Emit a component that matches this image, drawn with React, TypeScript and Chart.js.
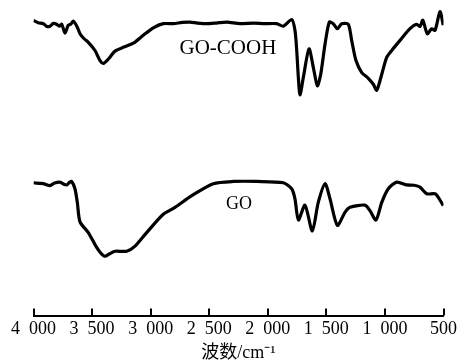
import React, { useEffect, useRef } from "react";
import { Chart, registerables } from "chart.js";

Chart.register(...registerables);

// Wavenumber (cm^-1) and transmittance (arbitrary %)
const goCoohWavenumbers = [
  4000, 3960, 3916, 3885, 3859, 3830, 3802, 3780, 3759, 3731, 3703, 3680, 3660, 3626, 3603, 3570, 3532, 3475,
  3432, 3404, 3361, 3304, 3233, 3148, 3063, 2977, 2892, 2807, 2730, 2664, 2600, 2521, 2440, 2351, 2237, 2120,
  2030, 1924, 1867, 1796, 1768, 1753, 1739, 1725, 1697, 1648, 1611, 1577, 1548, 1511, 1475, 1441, 1406, 1369,
  1313, 1284, 1247, 1198, 1142, 1099, 1070, 1027, 985, 942, 871, 786, 729, 700, 677, 638, 601, 572, 530, 502,
];
const goCoohValues = [
  93.5, 92.8, 92.5, 91.6, 91.7, 92.6, 92.3, 91.7, 92.3, 89.5, 92.0, 92.4, 93.3, 91.4, 89.3, 87.8, 86.6, 84.0,
  80.8, 79.9, 81.3, 83.8, 85.0, 86.3, 88.8, 91.2, 92.5, 92.5, 92.9, 93.0, 92.7, 92.5, 92.7, 93.0, 92.5, 92.7,
  92.5, 92.5, 91.7, 93.8, 90.4, 84.0, 75.4, 69.9, 75.4, 84.5, 78.6, 72.8, 76.5, 86.1, 93.0, 92.5, 90.9, 92.5,
  92.3, 87.2, 80.8, 77.0, 75.2, 73.3, 71.4, 76.5, 81.8, 84.0, 87.2, 90.9, 92.3, 91.6, 93.6, 89.3, 90.9, 90.4, 96.3, 92.0,
];

const goWavenumbers = [
  4000, 3950, 3916, 3859, 3820, 3774, 3740, 3717, 3690, 3674, 3646, 3626, 3603, 3532, 3475, 3432, 3390, 3350,
  3304, 3204, 3133, 3034, 2892, 2792, 2649, 2465, 2294, 2095, 1867, 1796, 1768, 1739, 1682, 1620, 1569, 1511,
  1469, 1406, 1341, 1298, 1170, 1127, 1076, 1027, 971, 899, 814, 750, 700, 643, 572, 536, 502,
];
const goValues = [
  42.1, 41.9, 41.8, 41.2, 42.0, 42.3, 41.6, 41.4, 42.3, 42.5, 40.2, 35.9, 29.7, 26.3, 22.5, 20.1, 18.8, 19.6,
  20.4, 20.4, 22.0, 26.3, 32.1, 34.3, 38.0, 41.8, 42.5, 42.5, 42.1, 40.2, 37.0, 30.3, 35.0, 26.8, 35.9, 41.8,
  37.0, 28.6, 32.7, 34.3, 35.0, 33.2, 30.3, 35.9, 40.2, 42.3, 41.4, 41.3, 40.7, 38.6, 38.6, 37.0, 34.8,
];

const seriesNames = ["GO-COOH", "GO"];
const xTickValues = [4000, 3500, 3000, 2500, 2000, 1500, 1000, 500];
const xTickLabels = ["4  000", "3  500", "3  000", "2  500", "2  000", "1  500", "1  000", "500"];
const xAxisTitle = "波数/cm⁻¹";

const SERIF = '"Liberation Serif", "Times New Roman", "Noto Sans CJK SC", serif';

// curve name labels, placed in data units
const curveLabels = [
  { text: seriesNames[0], x: 2340, y: 84.6, size: 21 },
  { text: seriesNames[1], x: 2245, y: 35.3, size: 18 },
];

const annotationPlugin = {
  id: "ftirDecor",
  afterDraw(chart: any) {
    const { ctx, scales, chartArea } = chart;
    const xs = scales.x;
    const ys = scales.y;
    ctx.save();
    // upward tick marks
    ctx.strokeStyle = "#000";
    ctx.lineWidth = 2;
    xs.ticks.forEach((t: any) => {
      const px = Math.round(xs.getPixelForValue(t.value));
      ctx.beginPath();
      ctx.moveTo(px, chartArea.bottom);
      ctx.lineTo(px, chartArea.bottom - 7);
      ctx.stroke();
    });
    // curve labels
    ctx.fillStyle = "#000";
    ctx.textAlign = "center";
    ctx.textBaseline = "middle";
    curveLabels.forEach((l) => {
      ctx.font = `${l.size}px ${SERIF}`;
      ctx.fillText(l.text, xs.getPixelForValue(l.x), ys.getPixelForValue(l.y));
    });
    ctx.restore();
  },
};

export default function App() {
  const ref = useRef<HTMLCanvasElement>(null);
  useEffect(() => {
    if (!ref.current) return;
    const lineStyle = {
      borderColor: "#000",
      borderWidth: 3.2,
      pointRadius: 0,
      tension: 0.25,
      fill: false,
    };
    const chart = new Chart(ref.current, {
      type: "line",
      data: {
        datasets: [
          { label: seriesNames[0], data: goCoohWavenumbers.map((w, i) => ({ x: w, y: goCoohValues[i] })), ...lineStyle },
          { label: seriesNames[1], data: goWavenumbers.map((w, i) => ({ x: w, y: goValues[i] })), ...lineStyle },
        ],
      },
      options: {
        responsive: false,
        animation: false,
        devicePixelRatio: 1,
        layout: { padding: { left: 33.5, right: 18.5, top: 0, bottom: -2 } },
        plugins: { legend: { display: false }, tooltip: { enabled: false } },
        scales: {
          x: {
            type: "linear",
            reverse: true,
            min: 500,
            max: 4000,
            afterBuildTicks: (scale: any) => {
              scale.ticks = xTickValues.map((v) => ({ value: v }));
            },
            ticks: {
              color: "#000",
              padding: 3,
              maxRotation: 0,
              autoSkip: false,
              font: { family: SERIF, size: 18 },
              callback: (v: any) => {
                const i = xTickValues.indexOf(Number(v));
                return i >= 0 ? xTickLabels[i] : "";
              },
            },
            grid: { display: false, drawTicks: false },
            border: { display: true, color: "#000", width: 2 },
            title: {
              display: true,
              text: xAxisTitle,
              color: "#000",
              font: { family: SERIF, size: 18, lineHeight: 1.1 },
              padding: { top: 0, bottom: 0 },
            },
          },
          y: {
            display: false,
            min: 0,
            max: 100,
          },
        },
      },
      plugins: [annotationPlugin],
    });
    return () => chart.destroy();
  }, []);
  return (
    <div style={{ position: "fixed", left: 0, top: 0, width: 462, height: 361, background: "#fff" }}>
      <canvas ref={ref} width={462} height={361} style={{ display: "block" }} />
    </div>
  );
}
